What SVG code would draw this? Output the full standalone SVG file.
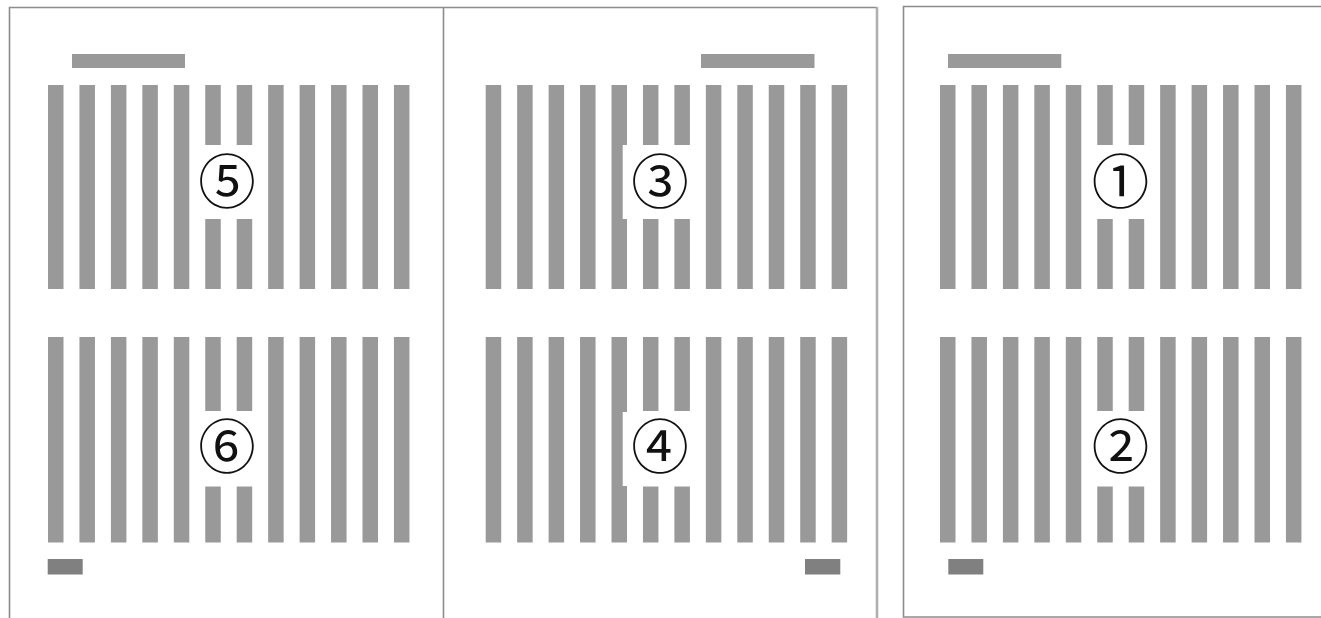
<svg xmlns="http://www.w3.org/2000/svg" xmlns:xlink="http://www.w3.org/1999/xlink" width="1321" height="618" viewBox="0 0 1321 618">
<style>
.bar{fill:#999999}
.hbar{fill:#999999}
.dark{fill:#808080}
.frame{fill:none;stroke:#8c8c8c;stroke-width:1.6}
.frame2{fill:none;stroke:#b0b0b0;stroke-width:2.6}
.lbl{font-family:"Noto Sans CJK JP","Noto Sans CJK SC","DejaVu Sans",sans-serif;font-size:57.5px;fill:#111;text-anchor:middle;dominant-baseline:central}
.bg{fill:#ffffff}
</style>
<defs>
<g id="grid">
<rect class="bar" x="0" y="85" width="15.5" height="204"/>
<rect class="bar" x="31.45" y="85" width="15.5" height="204"/>
<rect class="bar" x="62.9" y="85" width="15.5" height="204"/>
<rect class="bar" x="94.35" y="85" width="15.5" height="204"/>
<rect class="bar" x="125.8" y="85" width="15.5" height="204"/>
<rect class="bar" x="157.25" y="85" width="15.5" height="60"/>
<rect class="bar" x="157.25" y="219" width="15.5" height="70"/>
<rect class="bar" x="188.7" y="85" width="15.5" height="60"/>
<rect class="bar" x="188.7" y="219" width="15.5" height="70"/>
<rect class="bar" x="220.15" y="85" width="15.5" height="204"/>
<rect class="bar" x="251.6" y="85" width="15.5" height="204"/>
<rect class="bar" x="283.05" y="85" width="15.5" height="204"/>
<rect class="bar" x="314.5" y="85" width="15.5" height="204"/>
<rect class="bar" x="345.95" y="85" width="15.5" height="204"/>
<rect class="bar" x="0" y="337" width="15.5" height="205.5"/>
<rect class="bar" x="31.45" y="337" width="15.5" height="205.5"/>
<rect class="bar" x="62.9" y="337" width="15.5" height="205.5"/>
<rect class="bar" x="94.35" y="337" width="15.5" height="205.5"/>
<rect class="bar" x="125.8" y="337" width="15.5" height="205.5"/>
<rect class="bar" x="157.25" y="337" width="15.5" height="74"/>
<rect class="bar" x="157.25" y="486.5" width="15.5" height="56"/>
<rect class="bar" x="188.7" y="337" width="15.5" height="74"/>
<rect class="bar" x="188.7" y="486.5" width="15.5" height="56"/>
<rect class="bar" x="220.15" y="337" width="15.5" height="205.5"/>
<rect class="bar" x="251.6" y="337" width="15.5" height="205.5"/>
<rect class="bar" x="283.05" y="337" width="15.5" height="205.5"/>
<rect class="bar" x="314.5" y="337" width="15.5" height="205.5"/>
<rect class="bar" x="345.95" y="337" width="15.5" height="205.5"/>
</g>
</defs>
<rect x="0" y="0" width="1321" height="618" fill="#ffffff"/>

<g id="frames">
<polyline class="frame" points="9.5,618 9.5,7.5 877,7.5"/>
<line class="frame" x1="443.5" y1="7.5" x2="443.5" y2="618"/>
<line class="frame2" x1="877" y1="7" x2="877" y2="618"/>
<polyline class="frame" points="1322,6.5 903.5,6.5 903.5,617 1322,617"/>
</g>

<g id="panel-left">
<rect class="hbar" x="72" y="54" width="113" height="14"/>
<use xlink:href="#grid" x="48"/>
<rect class="dark" x="47.7" y="559" width="35" height="15.5"/>
</g>

<g id="panel-middle">
<rect class="hbar" x="701" y="54" width="113.5" height="14"/>
<use xlink:href="#grid" x="485.7"/>
<rect class="dark" x="805" y="559" width="35.3" height="15.5"/>
</g>

<g id="panel-right">
<rect class="hbar" x="948" y="54" width="113.3" height="14"/>
<use xlink:href="#grid" x="940"/>
<rect class="dark" x="948.3" y="559" width="35" height="15.5"/>
</g>

<g id="label-5"><text class="lbl" x="227" y="177.5">⑤</text></g>
<g id="label-6"><text class="lbl" x="227" y="443">⑥</text></g>
<g id="label-3"><rect class="bg" x="622.7" y="145" width="74.6" height="74"/><text class="lbl" x="660" y="177.5">③</text></g>
<g id="label-4"><rect class="bg" x="622.7" y="412" width="74.6" height="74"/><text class="lbl" x="660" y="443">④</text></g>
<g id="label-1"><text class="lbl" x="1120.5" y="177.5">①</text></g>
<g id="label-2"><text class="lbl" x="1120.5" y="443">②</text></g>
</svg>
